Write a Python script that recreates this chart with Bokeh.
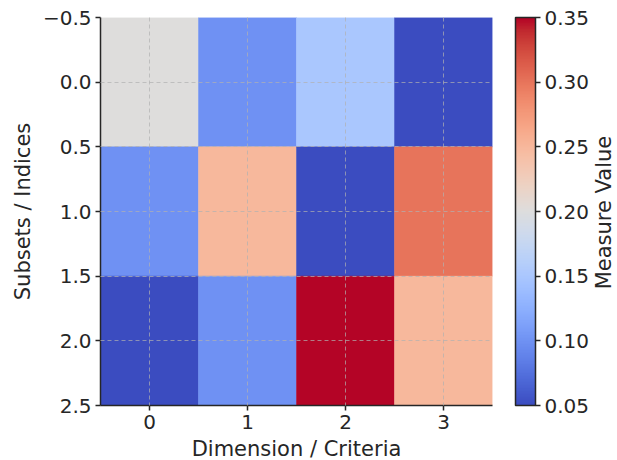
import numpy as np
from bokeh.plotting import figure
from bokeh.models import (ColumnDataSource, LinearColorMapper, ColorBar, FixedTicker,
                          Range1d, LinearAxis, PrintfTickFormatter)
from bokeh.embed import file_html
from bokeh.resources import INLINE

# ---- data ----
columns = [0, 1, 2, 3]
rows = [0, 1, 2]
row0 = [0.20, 0.10, 0.15, 0.05]
row1 = [0.10, 0.25, 0.05, 0.30]
row2 = [0.05, 0.10, 0.35, 0.25]
x_ticks = [0, 1, 2, 3]
y_ticks = [-0.5, 0.0, 0.5, 1.0, 1.5, 2.0, 2.5]
y_tick_labels = ["\u22120.5", "0.0", "0.5", "1.0", "1.5", "2.0", "2.5"]
cbar_ticks = [0.05, 0.10, 0.15, 0.20, 0.25, 0.30, 0.35]
cbar_title = "Measure Value"
vmin, vmax = 0.05, 0.35

# ---- coolwarm palette (Moreland diverging map anchors) ----
anchors = [(59,76,192),(68,90,204),(77,104,215),(87,117,225),(98,130,234),(108,142,241),
           (119,154,247),(130,165,251),(141,176,254),(152,185,255),(163,194,255),(174,201,253),
           (184,208,249),(194,213,244),(204,217,238),(213,219,230),(221,221,221),(229,216,209),
           (236,211,197),(241,204,185),(245,196,173),(247,187,160),(247,177,148),(247,166,135),
           (244,154,123),(241,141,111),(236,127,99),(229,112,88),(222,96,77),(213,80,66),
           (203,62,56),(192,40,47),(180,4,38)]
a = np.array(anchors, dtype=float)
pos = np.linspace(0, 1, len(a))
t = np.linspace(0, 1, 256)
palette = ["#%02x%02x%02x" % tuple(int(round(np.interp(tt, pos, a[:, k]))) for k in range(3)) for tt in t]

grid_vals = [row0, row1, row2]
xs, ys, vs = [], [], []
for r, vals in zip(rows, grid_vals):
    for c, v in zip(columns, vals):
        xs.append(c); ys.append(r); vs.append(v)
src = ColumnDataSource(dict(x=xs, y=ys, v=vs))

mapper = LinearColorMapper(palette=palette, low=vmin, high=vmax)

FONT = "DejaVu Sans"
TXT = "#262626"
FS = "20px"
FL = "21px"

p = figure(frame_width=392, frame_height=388, output_backend="svg", toolbar_location=None,
           x_range=Range1d(-0.5, 3.5), y_range=Range1d(2.5, -0.5),
           min_border_top=17, min_border_left=100, min_border_right=122, min_border_bottom=5)
p.outline_line_color = None
p.background_fill_color = "white"

p.rect(x="x", y="y", width=1, height=1, source=src,
       fill_color={"field": "v", "transform": mapper},
       line_color={"field": "v", "transform": mapper}, line_width=0.5)

p.xaxis.ticker = FixedTicker(ticks=x_ticks)
p.yaxis.ticker = FixedTicker(ticks=y_ticks)
p.yaxis.major_label_overrides = {t_: l_ for t_, l_ in zip(y_ticks, y_tick_labels)}
for ax in (p.xaxis[0], p.yaxis[0]):
    ax.major_label_text_font = FONT
    ax.major_label_text_font_size = FS
    ax.major_label_text_color = TXT
    ax.axis_label_text_font = FONT
    ax.axis_label_text_font_size = FL
    ax.axis_label_text_font_style = "normal"
    ax.axis_label_text_color = TXT
    ax.axis_line_color = TXT
    ax.axis_line_width = 1.5
    ax.major_tick_line_color = TXT
    ax.major_tick_line_width = 1.5
    ax.major_tick_out = 5
    ax.major_tick_in = 0
    ax.minor_tick_line_color = None
p.xaxis.axis_label = "Dimension / Criteria"
p.yaxis.axis_label = "Subsets / Indices"
p.xaxis.major_label_standoff = 4
p.yaxis.major_label_standoff = 4

p.xgrid.ticker = FixedTicker(ticks=x_ticks)
p.ygrid.ticker = FixedTicker(ticks=y_ticks)
p.grid.grid_line_color = "#b0b0b0"
p.grid.grid_line_dash = "4 3"
p.grid.grid_line_alpha = 0.7
p.grid.grid_line_width = 1
p.grid.level = "overlay"

cb = ColorBar(color_mapper=mapper, ticker=FixedTicker(ticks=cbar_ticks),
              formatter=PrintfTickFormatter(format="%.2f"),
              width=20, height=388, padding=0, margin=0, location=(23, 0),
              bar_line_color=TXT, bar_line_width=1.5,
              major_tick_in=0, major_tick_out=5, major_tick_line_color=TXT,
              major_tick_line_width=1.5,
              major_label_text_font=FONT, major_label_text_font_size=FS,
              major_label_text_color=TXT, label_standoff=4,
              background_fill_color=None, border_line_color=None)
p.add_layout(cb, "right")

# colour bar title: a rotated tick label on an otherwise invisible right axis.
# Rotated labels start at their tick, so the tick sits half the text length below the centre.
fl_px = 21.0
title_len_px = 7.414 * fl_px
px_per_unit = 388 / 3.0
title_anchor = 1.0 + (title_len_px / 2) / px_per_unit
tax = LinearAxis(ticker=FixedTicker(ticks=[title_anchor]),
                 major_label_overrides={title_anchor: cbar_title},
                 major_label_orientation=np.pi / 2,
                 axis_line_color=None, major_tick_line_color=None, minor_tick_line_color=None,
                 major_tick_out=6, major_tick_in=0, major_label_standoff=6,
                 major_label_text_font=FONT, major_label_text_font_size=FL,
                 major_label_text_color=TXT)
p.add_layout(tax, "right")

open("out.html", "w").write(file_html(p, INLINE))
